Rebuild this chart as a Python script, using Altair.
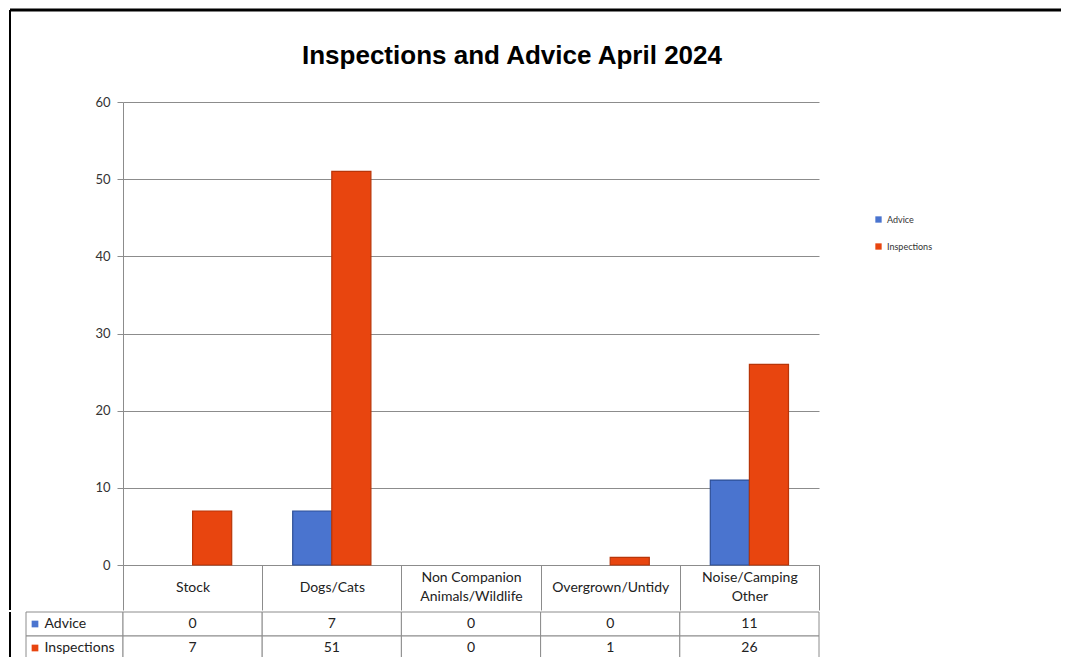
import altair as alt
import pandas as pd

categories = ["Stock", "Dogs/Cats", "Non Companion Animals/Wildlife", "Overgrown/Untidy", "Noise/Camping Other"]
series = ["Advice", "Inspections"]
advice = [0, 7, 0, 0, 11]
inspections = [7, 51, 0, 1, 26]
y_ticks = [0, 10, 20, 30, 40, 50, 60]
colors = ["#4a74cf", "#e8450f"]
strokes = ["#2d4f97", "#b83508"]
title_text = "Inspections and Advice April 2024"

rows = []
for c, a, i in zip(categories, advice, inspections):
    rows.append({"category": c, "series": "Advice", "value": a})
    rows.append({"category": c, "series": "Inspections", "value": i})
df = pd.DataFrame(rows)
series_df = pd.DataFrame({"series": series})
one = pd.DataFrame({"k": [0]})
title_df = pd.DataFrame({"t": [title_text]})

W, H = 696, 463
FONT = "Lato"
GRID = "#8c8c8c"
TXT = "#222222"

two_line_test = "datum.value == 'Non Companion Animals/Wildlife' || datum.value == 'Noise/Camping Other'"
label_expr = ("datum.label == 'Non Companion Animals/Wildlife' ? ['Non Companion', 'Animals/Wildlife'] : "
              "datum.label == 'Noise/Camping Other' ? ['Noise/Camping', 'Other'] : datum.label")

x_top = alt.X(
    "category:N", sort=categories,
    scale=alt.Scale(domain=categories, paddingInner=0, paddingOuter=0),
    axis=alt.Axis(title=None, labelAngle=0, labelFont=FONT, labelFontSize=14, labelColor=TXT,
                  labelBaseline="middle",
                  labelPadding={"condition": {"test": two_line_test, "value": -32.5}, "value": -22.5},
                  labelLineHeight=19,
                  labelExpr=label_expr, labelOverlap=False,
                  tickBand="extent", tickSize=45, tickColor=GRID, tickWidth=1,
                  domainColor=GRID, grid=False),
)

bars = alt.Chart(df).transform_filter("datum.value > 0").mark_bar(strokeWidth=1.2).encode(
    x=x_top,
    xOffset=alt.XOffset("series:N", sort=series,
                        scale=alt.Scale(domain=series, paddingOuter=0.78, paddingInner=0)),
    y=alt.Y("value:Q", scale=alt.Scale(domain=[0, 60]),
            axis=alt.Axis(values=y_ticks, title=None, grid=True, gridColor=GRID, tickSize=6,
                          tickColor=GRID, domainColor=GRID, labelPadding=7, labelFont=FONT,
                          labelFontSize=13, labelColor="#333333")),
    color=alt.Color("series:N", sort=series, scale=alt.Scale(domain=series, range=colors),
                    legend=alt.Legend(title=None, orient="none", legendX=751, legendY=113,
                                      symbolType="square", symbolSize=40, symbolStrokeWidth=0,
                                      labelFont=FONT, labelFontSize=9, labelColor="#333333",
                                      rowPadding=17)),
    stroke=alt.Stroke("series:N", scale=alt.Scale(domain=series, range=strokes), legend=None),
)

title_mark = alt.Chart(title_df).mark_text(
    font="Liberation Sans", fontSize=26, fontWeight="bold", color="black", baseline="middle"
).encode(x=alt.value(389), y=alt.value(-46), text="t:N")

frame_top = alt.Chart(one).mark_rule(color="black", strokeWidth=3).encode(
    x=alt.value(-113), x2=alt.value(938), y=alt.value(-92))
frame_left_top = alt.Chart(one).mark_rule(color="black", strokeWidth=2).encode(
    x=alt.value(-113), y=alt.value(-92), y2=alt.value(H + 45))

top = alt.layer(bars, title_mark, frame_top, frame_left_top).properties(width=W, height=H)

x_bot = alt.X("category:N", sort=categories,
              scale=alt.Scale(domain=categories, paddingInner=0, paddingOuter=0), axis=None)
y_bot = alt.Y("series:N", sort=series,
              scale=alt.Scale(domain=series, paddingInner=0, paddingOuter=0),
              axis=alt.Axis(title=None, domain=False, ticks=False, tickSize=0, grid=False,
                            labelAlign="left", labelPadding=79, labelFont=FONT, labelFontSize=14,
                            labelColor=TXT))

cells = alt.Chart(df).mark_rect(fill="white", stroke=GRID, strokeWidth=1).encode(x=x_bot, y=y_bot)
texts = alt.Chart(df).mark_text(font=FONT, fontSize=14, color=TXT).encode(
    x=x_bot, y=y_bot, text="value:Q")
label_cells = alt.Chart(series_df).mark_rect(fill="white", stroke=GRID, strokeWidth=1).encode(
    x=alt.value(-97), x2=alt.value(0), y=y_bot)
swatches = alt.Chart(series_df).mark_square(size=45, opacity=1).encode(
    x=alt.value(-88), y=y_bot,
    color=alt.Color("series:N", scale=alt.Scale(domain=series, range=colors), legend=None))
frame_left_bot = alt.Chart(one).mark_rule(color="black", strokeWidth=2).encode(
    x=alt.value(-113), y=alt.value(0), y2=alt.value(48))

bottom = alt.layer(label_cells, cells, texts, swatches, frame_left_bot).properties(width=W, height=48)

chart = alt.vconcat(top, bottom, spacing=0).properties(
    padding=0, background="white"
).configure_view(stroke=None)

chart.save("out.html", embed_options={"renderer": "svg", "actions": False})
